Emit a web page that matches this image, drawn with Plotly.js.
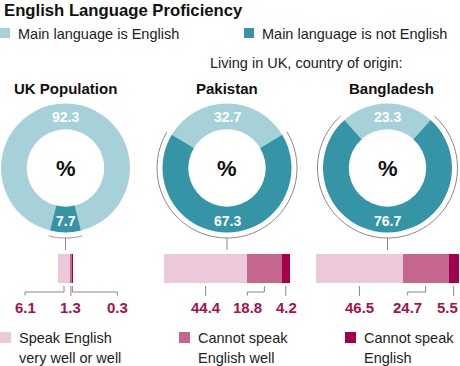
<!DOCTYPE html>
<html><head><meta charset="utf-8">
<script src="https://cdn.plot.ly/plotly-3.0.1.min.js"></script>
<style>html,body{margin:0;padding:0;background:#fff}#chart{width:460px;height:366px}</style>
</head><body><div id="chart"></div>
<script>
// ---------------- data ----------------
const groups = ['UK Population', 'Pakistan', 'Bangladesh'];
const mainEnglish = [92.3, 32.7, 23.3];
const mainNotEnglish = [7.7, 67.3, 76.7];
const speakWell = [6.1, 44.4, 46.5];
const cannotSpeakWell = [1.3, 18.8, 24.7];
const cannotSpeak = [0.3, 4.2, 5.5];
const donutLegend = ['Main language is English', 'Main language is not English'];
const barLegend = [['Speak English', 'very well or well'], ['Cannot speak', 'English well'], ['Cannot speak', 'English']];
const titleText = 'English Language Proficiency';
const subTitle = 'Living in UK, country of origin:';

// ---------------- layout constants ----------------
const W = 460, H = 366;
const FONT = 'Liberation Sans, Arial, sans-serif';
const cxs = [65.5, 227, 387.5], CY = 168, R = 64.5, HOLE = 0.6, ARC_R = R + 5.5;
const TITLE_NUDGE = [0, 0, 4];
const PXU = 1.86;                 // pixels per percentage point in the bars
const BAR_TOP = 254, BAR_BOT = 283;
const LABEL_SHIFT = [[-39, 0, 45], [0, -17, 0], [0, -18, 0]];
const TEXT_NUDGE = [[0, 0, 0], [0, 0, 1], [0, 0, -6]];
const C_LIGHT = '#a7d1d9', C_DARK = '#3594a5';
const PINKS = ['#ecc9da', '#c4668e', '#a2004c'];
const C_VAL = '#a3124f', C_GREY = '#8e8585', C_TEXT = '#222222';

const px = p => p / W;
const py = p => 1 - p / H;

const traces = [], shapes = [], annotations = [];
const layout = {
  width: W, height: H, margin: {l: 0, r: 0, t: 0, b: 0},
  paper_bgcolor: '#fff', plot_bgcolor: 'rgba(0,0,0,0)',
  showlegend: false, barmode: 'stack', bargap: 0,
  font: {family: FONT, color: C_TEXT},
  shapes, annotations
};

function ann(x, y, text, size, opts) {
  annotations.push(Object.assign({
    xref: 'paper', yref: 'paper', x: px(x), y: py(y), text,
    showarrow: false, xanchor: 'center', yanchor: 'middle',
    font: {family: FONT, size, color: C_TEXT}
  }, opts || {}));
}
function line(points, color) {
  const d = points.map((p, i) => (i ? 'L' : 'M') + px(p[0]).toFixed(5) + ',' + py(p[1]).toFixed(5)).join(' ');
  shapes.push({type: 'path', xref: 'paper', yref: 'paper', path: d, line: {color: color || C_GREY, width: 1}});
}
function rect(x0, y0, x1, y1, color) {
  shapes.push({type: 'rect', xref: 'paper', yref: 'paper', x0: px(x0), x1: px(x1), y0: py(y1), y1: py(y0),
    fillcolor: color, line: {width: 0}});
}

// title + legends
ann(2, 10, '<b>' + titleText + '</b>', 16.7, {xanchor: 'left', font: {family: FONT, size: 16.7, color: '#111'}});
rect(0, 28, 10, 38, C_LIGHT); ann(16, 33.5, donutLegend[0], 14.5, {xanchor: 'left'});
rect(244, 28, 254, 38, C_DARK); ann(260, 33.5, donutLegend[1], 14.5, {xanchor: 'left'});
ann(208, 63, subTitle, 14.5, {xanchor: 'left'});

const barSeries = [speakWell, cannotSpeakWell, cannotSpeak];

groups.forEach((g, gi) => {
  const cx = cxs[gi];
  const total = mainEnglish[gi] + mainNotEnglish[gi];
  const lightDeg = mainEnglish[gi] / total * 360;
  const rot = -lightDeg / 2;
  traces.push({
    type: 'pie', values: [mainEnglish[gi], mainNotEnglish[gi]], sort: false,
    direction: 'clockwise', rotation: rot, hole: HOLE,
    marker: {colors: [C_LIGHT, C_DARK], line: {width: 0}},
    textinfo: 'none', hoverinfo: 'skip', showlegend: false,
    domain: {x: [px(cx - R), px(cx + R)], y: [py(CY + R), py(CY - R)]}
  });
  // slice labels at mid-ring along bisectors
  const rm = R * (1 + HOLE) / 2;
  const mids = [rot + lightDeg / 2, rot + lightDeg + (360 - lightDeg) / 2];
  [mainEnglish[gi], mainNotEnglish[gi]].forEach((v, k) => {
    const a = mids[k] * Math.PI / 180;
    ann(cx + rm * Math.sin(a), CY - rm * Math.cos(a) + 1, '<b>' + v.toFixed(1) + '</b>', 14, {font: {family: FONT, size: 14, color: '#fff'}});
  });
  ann(cx, CY, '<b>%</b>', 22, {font: {family: FONT, size: 22, color: '#111'}});
  ann(cx + TITLE_NUDGE[gi], 88, '<b>' + g + '</b>', 15, {font: {family: FONT, size: 15, color: '#111'}});

  // bracket arc around the "not English" slice
  const a0 = rot + lightDeg, a1 = rot + 360, pts = [];
  for (let i = 0; i <= 80; i++) {
    const a = (a0 + (a1 - a0) * i / 80) * Math.PI / 180;
    pts.push([cx + ARC_R * Math.sin(a), CY - ARC_R * Math.cos(a)]);
  }
  line(pts);
  line([[cx, CY + ARC_R], [cx, BAR_TOP - 4]]);

  // stacked bar
  const s = gi === 0 ? '' : String(gi + 1);
  const barTotal = speakWell[gi] + cannotSpeakWell[gi] + cannotSpeak[gi];
  const start = cx - barTotal * PXU / 2;
  const d0 = Math.max(0, cx - 78), d1 = Math.min(W, cx + 78);
  layout['xaxis' + s] = {domain: [px(d0), px(d1)], range: [(d0 - start) / PXU, (d1 - start) / PXU],
    visible: false, fixedrange: true, anchor: 'y' + s};
  layout['yaxis' + s] = {domain: [py(BAR_BOT), py(BAR_TOP)], range: [-0.5, 0.5],
    visible: false, fixedrange: true, anchor: 'x' + s};
  let cum = 0;
  barSeries.forEach((ser, ci) => {
    const v = ser[gi];
    traces.push({type: 'bar', orientation: 'h', x: [v], y: [0], width: 1,
      xaxis: 'x' + s, yaxis: 'y' + s, marker: {color: PINKS[ci], line: {width: 0}},
      hoverinfo: 'skip', showlegend: false});
    const mid = start + (cum + v / 2) * PXU;
    const shift = LABEL_SHIFT[gi][ci];
    const lx = mid + shift;
    if (shift === 0) {
      line([[mid, BAR_BOT + 3], [mid, 296]]);
    } else {
      line([[mid, BAR_BOT + 3], [mid, 292], [lx, 292], [lx, 295.5]]);
    }
    ann(lx + TEXT_NUDGE[gi][ci], 307, '<b>' + v.toFixed(1) + '</b>', 15, {font: {family: FONT, size: 15, color: C_VAL}});
    cum += v;
  });
});

// bottom legend
const legX = [0, 179, 345];
barLegend.forEach((lines, i) => {
  rect(legX[i], 332, legX[i] + 11, 343, PINKS[i]);
  ann(legX[i] + 17, 338, lines[0], 14.5, {xanchor: 'left'});
  ann(legX[i] + 17, 358, lines[1], 14.5, {xanchor: 'left'});
});

Plotly.newPlot('chart', traces, layout, {staticPlot: true, displayModeBar: false});
</script>
</body></html>
